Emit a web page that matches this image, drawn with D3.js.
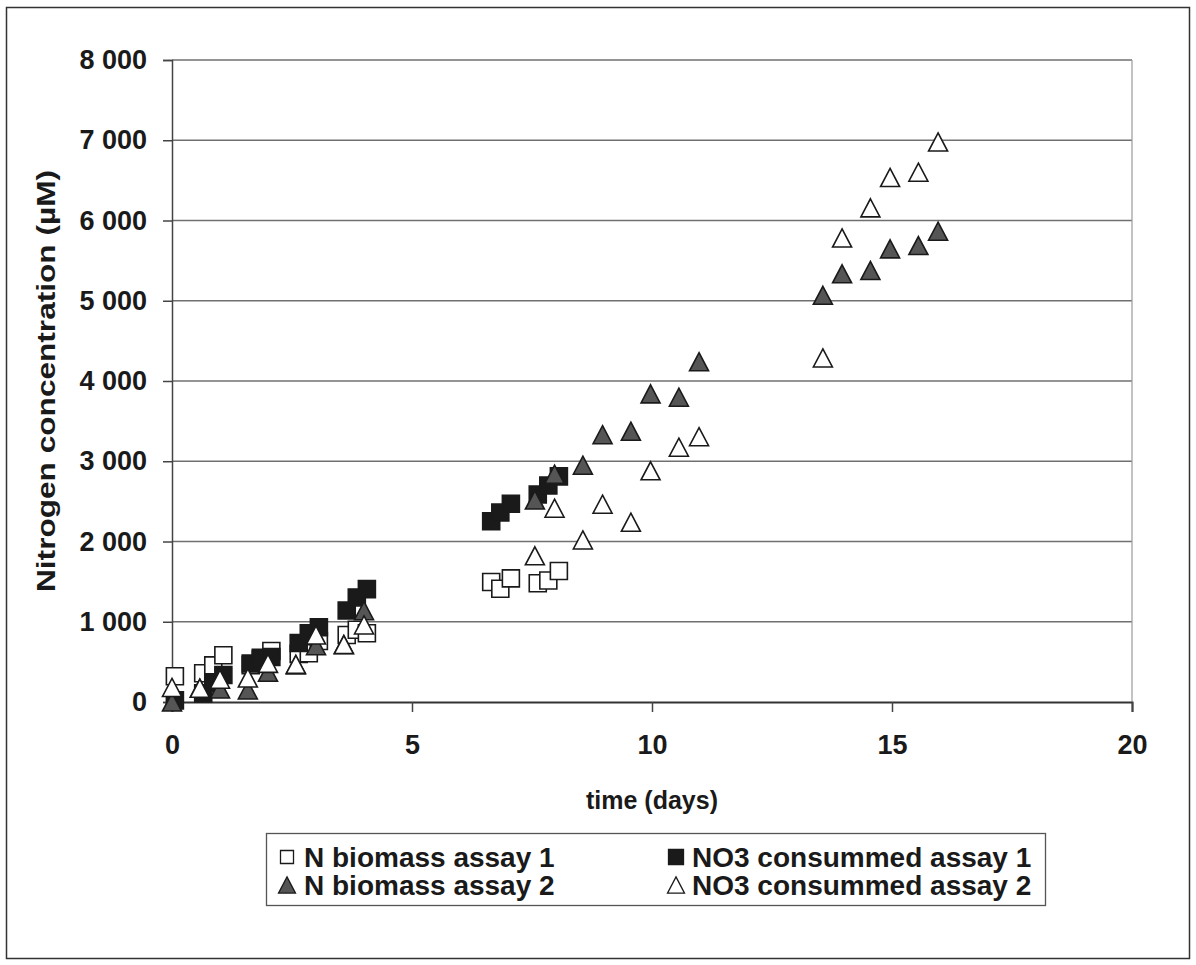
<!DOCTYPE html>
<html>
<head>
<meta charset="utf-8">
<script src="https://cdn.jsdelivr.net/npm/d3@7"></script>
<style>
  html, body { margin: 0; padding: 0; background: #fff; }
  svg { display: block; }
  text { font-family: "Liberation Sans", Arial, sans-serif; font-weight: bold; fill: #1a1a1a; }
</style>
</head>
<body>
<svg id="chart" width="1196" height="965"></svg>
<script>
// ---------- DATA ----------
const seriesNames = ["N biomass assay 1", "NO3 consummed assay 1", "N biomass assay 2", "NO3 consummed assay 2"];

const timesAssay1 = [0.06, 0.65, 0.86, 1.07, 1.64, 1.85, 2.07, 2.64, 2.85, 3.06, 3.64, 3.85, 4.06, 6.65, 6.84, 7.06, 7.62, 7.84, 8.06];
const nBiomass1   = [321, 358, 457, 582, 460, 530, 636, 600, 607, 760, 835, 900, 856, 1495, 1412, 1541, 1479, 1514, 1632];
const no3Cons1    = [20, 108, 237, 336, 480, 550, 560, 735, 856, 931, 1140, 1303, 1407, 2253, 2361, 2471, 2586, 2698, 2812];

const timesAssay2 = [0, 0.58, 1.0, 1.58, 2.0, 2.58, 3.0, 3.58, 4.0, 7.56, 7.97, 8.56, 8.97, 9.56, 9.97, 10.56, 10.98, 13.56, 13.96, 14.55, 14.96, 15.55, 15.96];
const nBiomass2   = [0, 172, 162, 150, 371, 462, 702, 715, 1138, 2517, 2839, 2951, 3331, 3374, 3840, 3798, 4240, 5068, 5336, 5377, 5647, 5688, 5867];
const no3Cons2    = [181, 171, 284, 299, 482, 470, 835, 716, 960, 1822, 2415, 2019, 2465, 2240, 2881, 3175, 3306, 4287, 5782, 6158, 6536, 6602, 6978];

const xTicks = [0, 5, 10, 15, 20];
const yTicks = [0, 1000, 2000, 3000, 4000, 5000, 6000, 7000, 8000];
const xTitle = "time (days)";
const yTitle = "Nitrogen concentration (µM)";

// ---------- LAYOUT ----------
const svg = d3.select("#chart");
const plot = { left: 172, right: 1132, top: 60, bottom: 702 };

const x = d3.scaleLinear().domain([0, 20]).range([plot.left, plot.right]);
const y = d3.scaleLinear().domain([0, 8000]).range([plot.bottom, plot.top]);

const fmt = v => d3.format(",")(v).replace(/,/g, " ");

// outer frame
svg.append("rect").attr("x", 6.5).attr("y", 7.5).attr("width", 1183).attr("height", 951)
  .attr("fill", "#fff").attr("stroke", "#333").attr("stroke-width", 1.5);

// gridlines
svg.append("g").selectAll("line").data(yTicks.filter(d => d > 0)).join("line")
  .attr("x1", plot.left).attr("x2", plot.right)
  .attr("y1", d => y(d)).attr("y2", d => y(d))
  .attr("stroke", "#707070").attr("stroke-width", 1.4);

// right plot border
svg.append("line").attr("x1", plot.right).attr("x2", plot.right)
  .attr("y1", plot.top).attr("y2", plot.bottom)
  .attr("stroke", "#9a9a9a").attr("stroke-width", 1.2);

// Y axis
const yAxis = svg.append("g").attr("transform", `translate(${plot.left},0)`)
  .call(d3.axisLeft(y).tickValues(yTicks).tickSize(9).tickPadding(16).tickFormat(fmt));
yAxis.select(".domain").attr("stroke", "#444").attr("stroke-width", 1.5);
yAxis.selectAll(".tick line").attr("stroke", "#444").attr("stroke-width", 1.5);
yAxis.selectAll(".tick text").attr("font-size", 27).attr("font-family", "Liberation Sans, Arial, sans-serif")
  .attr("font-weight", "bold").attr("fill", "#1a1a1a");

// X axis
const xAxis = svg.append("g").attr("transform", `translate(0,${plot.bottom})`)
  .call(d3.axisBottom(x).tickValues(xTicks).tickSize(10).tickPadding(23).tickFormat(d3.format("d")));
xAxis.select(".domain").attr("stroke", "#333").attr("stroke-width", 2);
xAxis.selectAll(".tick line").attr("stroke", "#444").attr("stroke-width", 1.5);
xAxis.selectAll(".tick text").attr("font-size", 27).attr("font-family", "Liberation Sans, Arial, sans-serif")
  .attr("font-weight", "bold").attr("fill", "#1a1a1a");

// axis titles
svg.append("text").attr("x", (plot.left + plot.right) / 2).attr("y", 809)
  .attr("text-anchor", "middle").attr("font-size", 25).text(xTitle);
svg.append("text").attr("transform", `translate(55,${(plot.top + plot.bottom) / 2}) rotate(-90)`)
  .attr("text-anchor", "middle").attr("font-size", 26)
  .attr("textLength", 422).attr("lengthAdjust", "spacingAndGlyphs").text(yTitle);

// ---------- MARKERS ----------
const sq = d3.symbol().type(d3.symbolSquare).size(17 * 17);
const triPath = s => { const h = s * 0.95, w = s; return `M0,${-h/2}L${w/2},${h/2}L${-w/2},${h/2}Z`; };

const styles = [
  { shape: "square", fill: "#fff",    stroke: "#1a1a1a" },
  { shape: "square", fill: "#1a1a1a", stroke: "#1a1a1a" },
  { shape: "tri",    fill: "#555555", stroke: "#1a1a1a" },
  { shape: "tri",    fill: "#fff",    stroke: "#1a1a1a" }
];
const seriesData = [
  timesAssay1.map((t, i) => [t, nBiomass1[i]]),
  timesAssay1.map((t, i) => [t, no3Cons1[i]]),
  timesAssay2.map((t, i) => [t, nBiomass2[i]]),
  timesAssay2.map((t, i) => [t, no3Cons2[i]])
];

seriesData.forEach((pts, si) => {
  const st = styles[si];
  svg.append("g").selectAll("path").data(pts).join("path")
    .attr("d", st.shape === "square" ? sq() : triPath(19))
    .attr("transform", d => `translate(${x(d[0])},${y(d[1])})`)
    .attr("fill", st.fill).attr("stroke", st.stroke).attr("stroke-width", 1.6)
    .attr("stroke-linejoin", "miter");
});

// ---------- LEGEND ----------
const leg = { x: 266, y: 833, w: 779, h: 72 };
svg.append("rect").attr("x", leg.x + 0.5).attr("y", leg.y + 0.5).attr("width", leg.w).attr("height", leg.h)
  .attr("fill", "#fff").attr("stroke", "#555").attr("stroke-width", 1.3);

const legPos = [
  { mx: 287, tx: 304, cy: 857 },
  { mx: 676, tx: 692, cy: 857 },
  { mx: 287, tx: 304, cy: 885 },
  { mx: 676, tx: 692, cy: 885 }
];
seriesNames.forEach((name, i) => {
  const st = styles[i], p = legPos[i];
  svg.append("path")
    .attr("d", st.shape === "square" ? d3.symbol().type(d3.symbolSquare).size(i === 0 ? 13 * 13 : 15 * 15)() : triPath(17))
    .attr("transform", `translate(${p.mx},${p.cy})`)
    .attr("fill", st.fill).attr("stroke", st.stroke).attr("stroke-width", 1.3);
  svg.append("text").attr("x", p.tx).attr("y", p.cy + 10).attr("font-size", 28).text(name);
});
</script>
</body>
</html>
